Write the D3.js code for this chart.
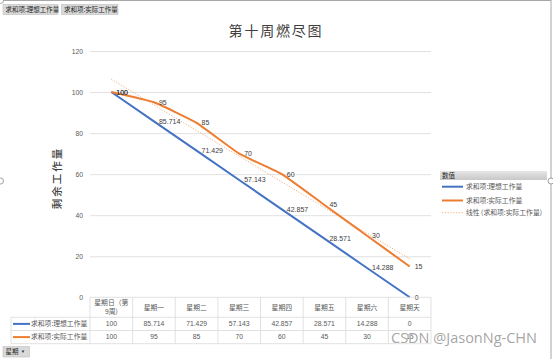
<!DOCTYPE html>
<html><head><meta charset="utf-8">
<script src="https://cdn.jsdelivr.net/npm/d3@7/dist/d3.min.js"></script>
<style>
html,body{margin:0;padding:0;background:#fff;}
svg{display:block;font-family:"Noto Sans CJK SC","Noto Sans",sans-serif;}
</style></head>
<body><svg id="c" width="553" height="359"></svg>
<script>
const categories = ["星期日（第9周)", "星期一", "星期二", "星期三", "星期四", "星期五", "星期六", "星期天"];
const categoryLines = [["星期日（第", "9周)"], ["星期一"], ["星期二"], ["星期三"], ["星期四"], ["星期五"], ["星期六"], ["星期天"]];
const idealValues = [100, 85.714, 71.429, 57.143, 42.857, 28.571, 14.288, 0];
const actualValues = [100, 95, 85, 70, 60, 45, 30, 15];
const seriesNames = ["求和项:理想工作量", "求和项:实际工作量"];
const trendName = "线性 (求和项:实际工作量)";
const yTicks = [0, 20, 40, 60, 80, 100, 120];
const title = "第十周燃尽图";
const yTitle = "剩余工作量";
const colors = {ideal: "#4472C4", actual: "#ED7D31", trend: "#F4B183"};

const svg = d3.select("#c");
const x = d3.scaleBand().domain(categories).range([90, 431]);
const y = d3.scaleLinear().domain([0, 120]).range([297.3, 51]);
const cx = d => x(d) + x.bandwidth() / 2;

// frame
svg.append("rect").attr("x", -2).attr("y", 0.5).attr("width", 553).attr("height", 400)
  .attr("fill", "none").attr("stroke", "#a6a6a6").attr("stroke-width", 1);
[[0.5, 0.5], [0.5, 181], [551, 181]].forEach(p => {
  svg.append("circle").attr("cx", p[0]).attr("cy", p[1]).attr("r", 3)
    .attr("fill", "#fff").attr("stroke", "#8a8a8a").attr("stroke-width", 0.8);
});

// field buttons
function btn(x0, y0, w, h, label, arrow) {
  const g = svg.append("g");
  g.append("rect").attr("x", x0).attr("y", y0).attr("width", w).attr("height", h)
    .attr("fill", "#d9d9d9").attr("stroke", "#bfbfbf").attr("stroke-width", 0.6);
  g.append("text").attr("x", x0 + 2.5).attr("y", y0 + h / 2).attr("dy", "0.35em")
    .attr("font-size", 6.5).attr("fill", "#262626").text(label);
  if (arrow) g.append("path").attr("d", `M${x0 + w - 8},${y0 + h / 2 - 1.2}l3,0l-1.5,2.4z`).attr("fill", "#404040");
}
btn(3, 4.5, 55, 10, seriesNames[0]);
btn(61.5, 4.5, 56.5, 10, seriesNames[1]);
btn(3, 346.5, 26.5, 10.5, "星期", true);

// title
svg.append("text").attr("x", 276).attr("y", 31).attr("dy", "0.35em").attr("text-anchor", "middle")
  .attr("font-size", 14).attr("letter-spacing", 1.8).attr("font-weight", 400).attr("fill", "#404040")
  .text(title);

// y title
svg.append("text").attr("transform", "translate(57.5,178) rotate(-90)").attr("text-anchor", "middle")
  .attr("dy", "0.35em").attr("font-size", 10.5).attr("letter-spacing", 2).attr("font-weight", 500)
  .attr("fill", "#404040").text(yTitle);

// gridlines + y labels
const yAxis = d3.axisLeft(y).tickValues(yTicks).tickSize(-(431 - 90)).tickPadding(7);
const ga = svg.append("g").attr("transform", "translate(90,0)").call(yAxis);
ga.select(".domain").remove();
ga.selectAll(".tick line").attr("stroke", "#d9d9d9").attr("stroke-width", 0.8)
  .filter(d => d === 0).remove();
ga.selectAll(".tick text").attr("font-size", 6.8).attr("fill", "#595959").attr("font-family", "'Liberation Sans',sans-serif");

// trend line (least-squares fit of actual)
const n = actualValues.length;
const xs = d3.range(n);
const mx = d3.mean(xs), my = d3.mean(actualValues);
const slope = d3.sum(xs, i => (i - mx) * (actualValues[i] - my)) / d3.sum(xs, i => (i - mx) ** 2);
const icpt = my - slope * mx;
svg.append("line")
  .attr("x1", cx(categories[0])).attr("y1", y(icpt))
  .attr("x2", cx(categories[n - 1])).attr("y2", y(icpt + slope * (n - 1)))
  .attr("stroke", colors.trend).attr("stroke-width", 1).attr("stroke-dasharray", "1.2,1.6");

// lines
const line = d3.line().x((d, i) => cx(categories[i])).y(d => y(d));
svg.append("path").datum(idealValues).attr("d", line).attr("fill", "none")
  .attr("stroke", colors.ideal).attr("stroke-width", 2);
svg.append("path").datum(actualValues).attr("d", line.curve(d3.curveCardinal.tension(0.6))).attr("fill", "none")
  .attr("stroke", colors.actual).attr("stroke-width", 2);

// data labels
function labels(vals) {
  svg.append("g").selectAll("text").data(vals).join("text")
    .attr("x", (d, i) => cx(categories[i]) + 5).attr("y", d => y(d)).attr("dy", "0.35em")
    .attr("font-size", 7).attr("fill", "#404040").attr("font-family", "'Liberation Sans',sans-serif")
    .text(d => String(d));
}
labels(idealValues);
labels(actualValues);

// data table
const tTop = 297.3, hRow = 20, r1 = 13.2;
const tb = svg.append("g");
const gridC = "#d9d9d9";
[[90, tTop], [11, tTop + hRow], [11, tTop + hRow + r1], [11, tTop + hRow + 2 * r1]].forEach(([x0, yy]) => {
  tb.append("line").attr("x1", x0).attr("x2", 431).attr("y1", yy).attr("y2", yy).attr("stroke", gridC).attr("stroke-width", 0.8);
});
categories.forEach(c => {
  tb.append("line").attr("x1", x(c)).attr("x2", x(c)).attr("y1", tTop).attr("y2", tTop + hRow + 2 * r1).attr("stroke", gridC).attr("stroke-width", 0.8);
});
tb.append("line").attr("x1", 431).attr("x2", 431).attr("y1", tTop).attr("y2", tTop + hRow + 2 * r1).attr("stroke", gridC).attr("stroke-width", 0.8);
tb.append("line").attr("x1", 11).attr("x2", 11).attr("y1", tTop + hRow).attr("y2", tTop + hRow + 2 * r1).attr("stroke", gridC).attr("stroke-width", 0.8);
categories.forEach((c, i) => {
  const ls = categoryLines[i];
  ls.forEach((t, j) => {
    tb.append("text").attr("x", cx(c)).attr("y", tTop + hRow / 2 + (j - (ls.length - 1) / 2) * 9.5)
      .attr("dy", "0.35em").attr("text-anchor", "middle").attr("font-size", 6.8).attr("fill", "#595959").text(t);
  });
});
[idealValues, actualValues].forEach((vals, r) => {
  const yy = tTop + hRow + r1 * r + r1 / 2;
  vals.forEach((v, i) => {
    tb.append("text").attr("x", cx(categories[i])).attr("y", yy).attr("dy", "0.35em").attr("text-anchor", "middle")
      .attr("font-size", 6.8).attr("fill", "#595959").attr("font-family", "'Liberation Sans',sans-serif").text(String(v));
  });
  tb.append("line").attr("x1", 13).attr("x2", 30).attr("y1", yy).attr("y2", yy)
    .attr("stroke", r ? colors.actual : colors.ideal).attr("stroke-width", 2);
  tb.append("text").attr("x", 31).attr("y", yy).attr("dy", "0.35em").attr("font-size", 6.8)
    .attr("fill", "#595959").text(seriesNames[r]);
});

// legend
const lg = svg.append("g");
const hg = svg.append("defs").append("linearGradient").attr("id", "hg").attr("x1", 0).attr("x2", 0).attr("y1", 0).attr("y2", 1);
hg.append("stop").attr("offset", 0).attr("stop-color", "#e6e6e6");
hg.append("stop").attr("offset", 1).attr("stop-color", "#c8c8c8");
lg.append("rect").attr("x", 440).attr("y", 171).attr("width", 107).attr("height", 9).attr("fill", "url(#hg)");
lg.append("text").attr("x", 442).attr("y", 175.5).attr("dy", "0.35em").attr("font-size", 6.5).attr("fill", "#262626").text("数值");
const items = [
  {name: seriesNames[0], c: colors.ideal, w: 2, dash: null, y: 186.7},
  {name: seriesNames[1], c: colors.actual, w: 2, dash: null, y: 200.5},
  {name: trendName, c: colors.trend, w: 1, dash: "1.2,1.6", y: 212.7}
];
items.forEach(it => {
  lg.append("line").attr("x1", 442).attr("x2", 463).attr("y1", it.y).attr("y2", it.y)
    .attr("stroke", it.c).attr("stroke-width", it.w).attr("stroke-dasharray", it.dash);
  lg.append("text").attr("x", 466).attr("y", it.y).attr("dy", "0.35em").attr("font-size", 6.8)
    .attr("fill", "#595959").text(it.name);
});

// watermark
svg.append("text").attr("x", 391).attr("y", 338).attr("dy", "0.35em").attr("font-size", 14.5)
  .attr("font-family", "'Open Sans','Noto Sans',sans-serif").attr("fill", "#9a9a9a")
  .attr("stroke", "#ffffff").attr("stroke-width", 0.6).attr("paint-order", "stroke").attr("fill-opacity", 0.9)
  .text("CSDN @JasonNg-CHN");
</script></body></html>
